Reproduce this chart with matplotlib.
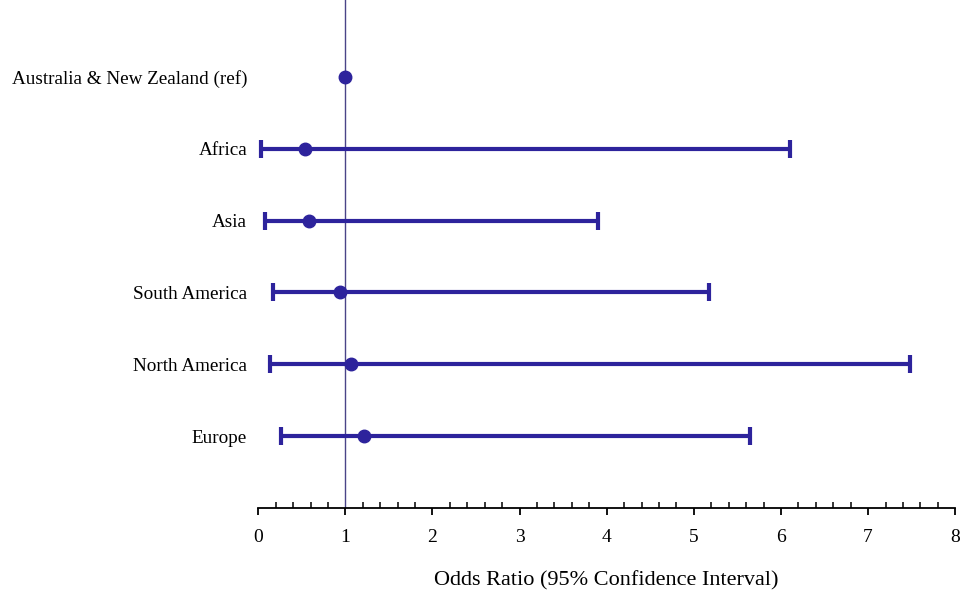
import matplotlib.pyplot as plt
from matplotlib.ticker import MultipleLocator

# forest plot data
regions = ["Australia & New Zealand (ref)", "Africa", "Asia",
           "South America", "North America", "Europe"]
odds = [1.0, 0.54, 0.58, 0.94, 1.06, 1.21]
ci_low = [None, 0.03, 0.08, 0.17, 0.14, 0.26]
ci_high = [None, 6.10, 3.90, 5.17, 7.48, 5.65]

color = "#2D239C"
plt.rcParams["font.family"] = ["Liberation Serif", "DejaVu Serif"]

fig = plt.figure(figsize=(9.6, 5.92), dpi=100)
ax = fig.add_axes([0.269, 0.142, 0.726, 0.858])

n = len(regions)
ypos = [n - i for i in range(n)]

for y, o, lo, hi in zip(ypos, odds, ci_low, ci_high):
    if lo is None:
        ax.plot(o, y, "o", color=color, markersize=9, zorder=3)
    else:
        ax.errorbar(o, y, xerr=[[o - lo], [hi - o]], fmt="o", color=color,
                    markersize=9, elinewidth=3, capsize=6.5, capthick=3, zorder=3)

ax.axvline(1, color="#4A4488", linewidth=1, zorder=1)

ax.set_xlim(0, 8)
ax.set_ylim(0, n + 1.07)
ax.set_yticks(ypos)
ax.set_yticklabels(regions, fontsize=13.8)
ax.tick_params(axis="y", length=0, pad=8)

ax.xaxis.set_major_locator(MultipleLocator(1))
ax.xaxis.set_minor_locator(MultipleLocator(0.2))
ax.tick_params(axis="x", which="major", direction="out", length=5, width=1.3,
               labelsize=14, pad=10)
ax.tick_params(axis="x", which="minor", direction="in", length=4, width=1.1)

for side in ["top", "right", "left"]:
    ax.spines[side].set_visible(False)
ax.spines["bottom"].set_linewidth(1.3)

ax.set_xlabel("Odds Ratio (95% Confidence Interval)", fontsize=16, labelpad=18)

fig.savefig("out.png", dpi=100)
